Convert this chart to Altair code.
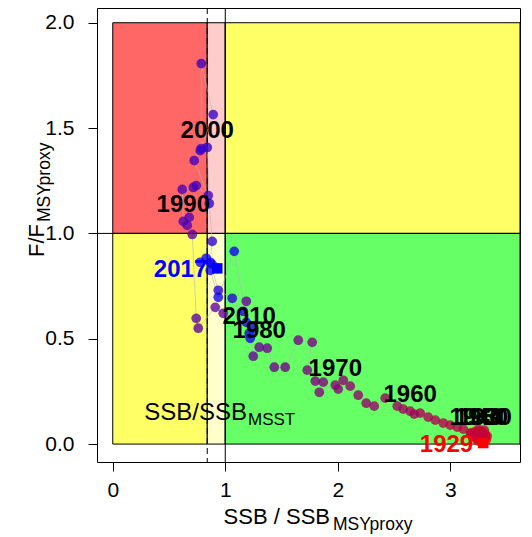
import altair as alt
import pandas as pd

years = list(range(1929, 2018))
ssb = [3.293, 3.311, 3.267, 3.240, 3.302, 3.249, 3.196, 3.276, 3.320, 3.213,
       3.258, 3.231, 3.284, 3.329, 3.178, 3.222, 3.267, 3.311, 3.293, 3.249,
       3.302, 3.276,
       3.187, 3.116, 3.062, 3.000, 2.938, 2.867, 2.804, 2.733, 2.680, 2.644,
       2.582, 2.529, 2.422, 2.324, 2.253, 2.182, 2.111, 2.049, 2.004, 1.978,
       1.836, 1.871, 1.800, 1.729, 1.773, 1.649, 1.533, 1.436, 1.373, 1.302,
       1.249, 1.187, 0.982, 0.911, 0.760, 0.742, 0.707, 0.662, 0.680, 0.627,
       0.618, 0.716, 0.742, 0.849, 0.724, 0.787, 0.787, 0.893, 0.778, 0.840,
       0.858, 0.884, 0.867, 0.938, 1.062, 1.160, 1.187, 1.249, 1.222, 1.213,
       1.080, 0.938, 0.867, 0.778, 0.831, 0.884, 0.929]
f = [0.005, 0.047, 0.019, 0.033, 0.028, 0.014, 0.038, 0.038, 0.019, 0.057,
     0.062, 0.047, 0.057, 0.038, 0.052, 0.028, 0.043, 0.033, 0.052, 0.071,
     0.066, 0.047,
     0.052, 0.071, 0.081, 0.090, 0.100, 0.114, 0.128, 0.147, 0.142, 0.156,
     0.166, 0.180, 0.218, 0.180, 0.194, 0.232, 0.275, 0.303, 0.261, 0.280,
     0.246, 0.294, 0.299, 0.351, 0.483, 0.493, 0.365, 0.365, 0.455, 0.460,
     0.417, 0.678, 0.621, 0.649, 0.550, 0.597, 0.995, 1.038, 1.076, 1.057,
     1.209, 1.218, 1.227, 1.180, 1.346, 1.403, 1.806, 1.564, 1.393, 1.408,
     1.142, 0.962, 0.863, 0.730, 0.692, 0.630, 0.578, 0.550, 0.502, 0.526,
     0.915, 0.697, 0.825, 0.863, 0.882, 0.853, 0.834]
decades = [1930, 1940, 1950, 1960, 1970, 1980, 1990, 2000, 2010]

msst = 0.84
zone_x = [0, msst, 1, 0, msst, 1]
zone_x2 = [msst, 1, 3.62, msst, 1, 3.62]
zone_y = [1, 1, 1, 0, 0, 0]
zone_y2 = [2, 2, 2, 1, 1, 1]
zone_colors = ["#FF6666", "#FFCCCC", "#FFFF66", "#FFFF66", "#FFFFCC", "#66FF66"]

df = pd.DataFrame({"year": years, "ssb": ssb, "f": f})
zones = pd.DataFrame({"x": zone_x, "x2": zone_x2, "y": zone_y, "y2": zone_y2,
                      "c": zone_colors})

FONT = "Liberation Sans"
xs = alt.Scale(domain=[-0.14, 3.62], nice=False, zero=False)
ys = alt.Scale(domain=[-0.085, 2.07], nice=False, zero=False)

xaxis = alt.Axis(values=[0, 1, 2, 3], format="d", title=None, grid=False,
                 domain=False, ticks=True, tickSize=9, tickWidth=1,
                 tickColor="black", labelColor="black",
                 labelFont=FONT, labelFontSize=21, labelPadding=8)
yaxis = alt.Axis(values=[0, 0.5, 1, 1.5, 2], format=".1f", title=None, grid=False,
                 domain=False, ticks=True, tickSize=9, tickWidth=1,
                 tickColor="black", labelColor="black",
                 labelFont=FONT, labelFontSize=21, labelPadding=14)


def X(field):
    return alt.X(field, scale=xs, axis=xaxis)


def Y(field):
    return alt.Y(field, scale=ys, axis=yaxis)


rects = alt.Chart(zones).mark_rect(stroke="black", strokeWidth=1).encode(
    x=X("x:Q"), x2="x2:Q", y=Y("y:Q"), y2="y2:Q",
    color=alt.Color("c:N", scale=None),
)

hline = alt.Chart(pd.DataFrame({"y": [1]})).mark_rule(color="black", strokeWidth=1).encode(
    y=Y("y:Q"))
vline = alt.Chart(pd.DataFrame({"x": [1]})).mark_rule(color="black", strokeWidth=1).encode(
    x=X("x:Q"))
dline = alt.Chart(pd.DataFrame({"x": [msst]})).mark_rule(
    color="black", strokeWidth=1, strokeDash=[6, 4]).encode(x=X("x:Q"))

traj = alt.Chart(df).mark_line(color="#b4b4b4", strokeWidth=1, opacity=0.6).encode(
    x=X("ssb:Q"), y=Y("f:Q"), order="year:Q",
)

cscale = alt.Scale(domain=[1929, 2017], range=["#FF0000", "#0000FF"],
                   interpolate="rgb")
pts = alt.Chart(df).mark_circle(size=95, opacity=0.78).encode(
    x=X("ssb:Q"), y=Y("f:Q"),
    color=alt.Color("year:Q", scale=cscale, legend=None),
)

ends = alt.Chart(df).transform_filter(
    alt.FieldOneOfPredicate(field="year", oneOf=[1929, 2017])
).mark_square(size=110, opacity=1).encode(
    x=X("ssb:Q"), y=Y("f:Q"),
    color=alt.Color("year:Q", scale=cscale, legend=None),
)

end_labels = alt.Chart(df).transform_filter(
    alt.FieldOneOfPredicate(field="year", oneOf=[1929, 2017])
).mark_text(font=FONT, fontSize=24, fontWeight="bold", align="right",
            baseline="middle", dx=-10, dy=2).encode(
    x=X("ssb:Q"), y=Y("f:Q"),
    text=alt.Text("year:Q", format="d"),
    color=alt.Color("year:Q", scale=cscale, legend=None),
)

dec_labels = alt.Chart(df).transform_filter(
    alt.FieldOneOfPredicate(field="year", oneOf=decades)
).mark_text(font=FONT, fontSize=24, fontWeight="bold", align="center",
            baseline="middle", dy=-16, color="black").encode(
    x=X("ssb:Q"), y=Y("f:Q"),
    text=alt.Text("year:Q", format="d"),
)


def label(txt, x, y, size, align, angle=0):
    return alt.Chart(pd.DataFrame({"t": [txt]})).mark_text(
        font=FONT, fontSize=size, align=align, baseline="alphabetic",
        angle=angle, color="black").encode(
        text="t:N", x=alt.value(x), y=alt.value(y))


texts = [
    label("SSB / SSB", 233, 516, 22, "right"),
    label("MSYproxy", 236, 522, 17.5, "left"),
    label("F/F", -53, 216, 22, "right", 270),
    label("MSYproxy", -47, 214, 17.5, "left", 270),
    label("SSB/SSB", 150, 412, 24, "right"),
    label("MSST", 151, 417, 17, "left"),
]

chart = alt.layer(rects, hline, vline, dline, traj, pts, ends, dec_labels,
                  end_labels, *texts).properties(
    width=423, height=454,
    autosize=alt.AutoSizeParams(type="none"),
    padding={"left": 89, "top": 0, "right": 3, "bottom": 72},
).configure_view(stroke="black", strokeWidth=1, fill="white")

chart.save("out.html", embed_options={"renderer": "svg", "actions": False})
